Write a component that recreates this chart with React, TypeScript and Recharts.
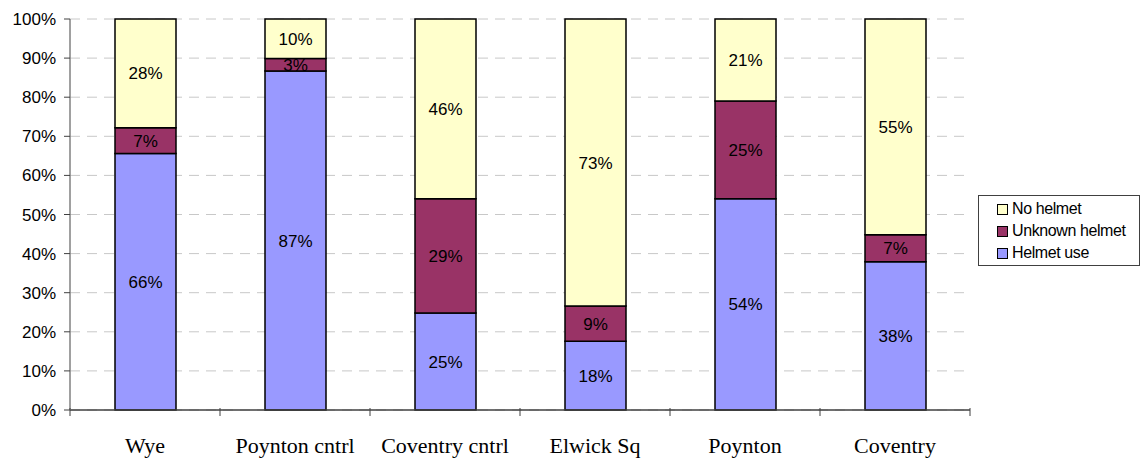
import React from 'react';
import { BarChart, Bar, XAxis, YAxis, CartesianGrid, LabelList } from 'recharts';

const categories = ['Wye', 'Poynton cntrl', 'Coventry cntrl', 'Elwick Sq', 'Poynton', 'Coventry'];
const helmetUse = [65.6, 86.7, 24.8, 17.6, 54.0, 37.9];
const unknownHelmet = [6.6, 3.2, 29.2, 9.0, 25.0, 6.9];
const noHelmet = [27.8, 10.1, 46.0, 73.4, 21.0, 55.2];
const yTicks = [0, 10, 20, 30, 40, 50, 60, 70, 80, 90, 100];

const data = categories.map((name, i) => ({
  name,
  helmet: helmetUse[i],
  unknown: unknownHelmet[i],
  none: noHelmet[i],
}));

const legendItems = [
  { label: 'No helmet', color: '#FFFFCC' },
  { label: 'Unknown helmet', color: '#993366' },
  { label: 'Helmet use', color: '#9999FF' },
];

const pct = (v: any) => `${Math.round(Number(v))}%`;

const CategoryTick = (props: any) => {
  const { x, y, payload, index } = props;
  const half = 75;
  return (
    <g>
      <line x1={x - half} y1={y - 8} x2={x - half} y2={y} stroke="#404040" />
      {index === categories.length - 1 && (
        <line x1={x + half} y1={y - 8} x2={x + half} y2={y} stroke="#404040" />
      )}
      <text x={x} y={y + 37} textAnchor="middle" fontFamily="'Liberation Serif', serif" fontSize={22} fill="#000">
        {payload.value}
      </text>
    </g>
  );
};

const labelStyle = { fill: '#000', fontSize: 17, fontFamily: "'Liberation Sans', Arial, sans-serif" };

export default function App() {
  return (
    <div style={{ position: 'absolute', left: 0, top: 0, width: 1143, height: 464, background: '#fff' }}>
      <BarChart
        width={1143}
        height={464}
        data={data}
        margin={{ top: 19, right: 173, left: 0, bottom: 0 }}
        barSize={61}
      >
        <CartesianGrid vertical={false} stroke="#c8c8c8" strokeDasharray="10 7" />
        <XAxis
          dataKey="name"
          height={54}
          axisLine={{ stroke: '#404040', strokeWidth: 1.5 }}
          tickLine={false}
          tick={<CategoryTick />}
          tickMargin={0}
          interval={0}
        />
        <YAxis
          width={70}
          domain={[0, 100]}
          ticks={yTicks}
          tickFormatter={(v: number) => `${v}%`}
          axisLine={{ stroke: '#808080', strokeWidth: 1.5 }}
          tickLine={{ stroke: '#404040' }}
          tickSize={6}
          tickMargin={8}
          tick={{ fill: '#000', fontSize: 17, fontFamily: "'Liberation Sans', Arial, sans-serif" }}
        />
        <Bar dataKey="helmet" stackId="a" fill="#9999FF" stroke="#000" strokeWidth={1.5} isAnimationActive={false}>
          <LabelList dataKey="helmet" position="center" formatter={pct} style={labelStyle} />
        </Bar>
        <Bar dataKey="unknown" stackId="a" fill="#993366" stroke="#000" strokeWidth={1.5} isAnimationActive={false}>
          <LabelList dataKey="unknown" position="center" formatter={pct} style={labelStyle} />
        </Bar>
        <Bar dataKey="none" stackId="a" fill="#FFFFCC" stroke="#000" strokeWidth={1.5} isAnimationActive={false}>
          <LabelList dataKey="none" position="center" formatter={pct} style={labelStyle} />
        </Bar>
      </BarChart>
      <div
        style={{
          position: 'absolute',
          left: 978,
          top: 195,
          width: 162,
          height: 71,
          border: '1px solid #404040',
          boxSizing: 'border-box',
          padding: '2px 0 0 18px',
          fontFamily: "'Liberation Sans', Arial, sans-serif",
          fontSize: 16,
          lineHeight: '22px',
          letterSpacing: -0.4,
        }}
      >
        {legendItems.map((item) => (
          <div key={item.label} style={{ display: 'flex', alignItems: 'center' }}>
            <span
              style={{
                display: 'inline-block',
                width: 9,
                height: 9,
                background: item.color,
                border: '1px solid #000',
                marginRight: 4,
              }}
            />
            {item.label}
          </div>
        ))}
      </div>
    </div>
  );
}
